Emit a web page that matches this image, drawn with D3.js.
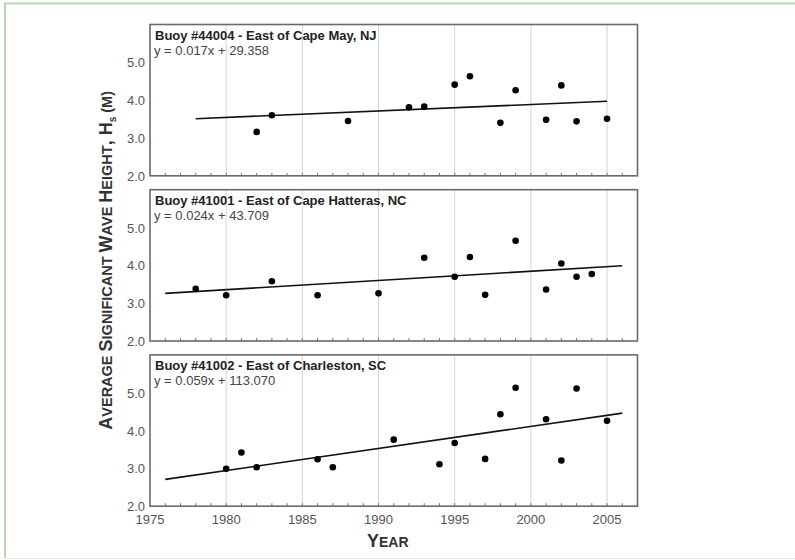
<!DOCTYPE html>
<html>
<head>
<meta charset="utf-8">
<script src="https://cdn.jsdelivr.net/npm/d3@7"></script>
<style>
  body { margin: 0; background: #fff; }
  svg text { font-family: "Liberation Sans", Arial, sans-serif; }
</style>
</head>
<body>
<div id="chart"></div>
<script>
// panel titles + regression labels
const titles = [
  "Buoy #44004 - East of Cape May, NJ",
  "Buoy #41001 - East of Cape Hatteras, NC",
  "Buoy #41002 - East of Charleston, SC"
];
const equations = [
  "y = 0.017x + 29.358",
  "y = 0.024x + 43.709",
  "y = 0.059x + 113.070"
];

// yearly averages
const years44004 = [1982, 1983, 1988, 1992, 1993, 1995, 1996, 1998, 1999, 2001, 2002, 2003, 2005];
const hs44004 = [3.16, 3.60, 3.45, 3.81, 3.83, 4.41, 4.63, 3.40, 4.26, 3.48, 4.39, 3.44, 3.51];

const years41001 = [1978, 1980, 1983, 1986, 1990, 1993, 1995, 1996, 1997, 1999, 2001, 2002, 2003, 2004];
const hs41001 = [3.38, 3.21, 3.58, 3.21, 3.26, 4.20, 3.70, 4.22, 3.22, 4.65, 3.36, 4.05, 3.70, 3.77];

const years41002 = [1980, 1981, 1982, 1986, 1987, 1991, 1994, 1995, 1997, 1998, 1999, 2001, 2002, 2003, 2005];
const hs41002 = [2.99, 3.42, 3.03, 3.24, 3.03, 3.76, 3.11, 3.67, 3.25, 4.43, 5.13, 4.30, 3.21, 5.11, 4.26];

// trend line end points [year, value]
const trend44004 = [[1978, 3.51], [2005, 3.97]];
const trend41001 = [[1976, 3.26], [2006, 3.99]];
const trend41002 = [[1976, 2.71], [2006, 4.46]];

const xTicks = [1975, 1980, 1985, 1990, 1995, 2000, 2005];
const yTicks = [2, 3, 4, 5];

const panels = [
  { years: years44004, hs: hs44004, trend: trend44004 },
  { years: years41001, hs: hs41001, trend: trend41001 },
  { years: years41002, hs: hs41002, trend: trend41002 }
];

const width = 795, height = 560;
const left = 150, right = 637.5;
const top0 = 24.5, step = 165.2, panelH = 151.3;

const svg = d3.select("#chart").append("svg")
  .attr("width", width)
  .attr("height", height);

// outer page frame
svg.append("line").attr("x1", 4).attr("x2", width).attr("y1", 3.5).attr("y2", 3.5)
  .attr("stroke", "#b5d8b0").attr("stroke-width", 2);
svg.append("line").attr("x1", 5).attr("x2", 5).attr("y1", 3).attr("y2", 558)
  .attr("stroke", "#b5d8b0").attr("stroke-width", 2);
svg.append("line").attr("x1", 5).attr("x2", width).attr("y1", 558.5).attr("y2", 558.5)
  .attr("stroke", "#e6e6e6").attr("stroke-width", 1);

const x = d3.scaleLinear().domain([1975, 2007]).range([left, right]);

panels.forEach((p, i) => {
  const top = top0 + i * step;
  const y = d3.scaleLinear().domain([2, 6]).range([top + panelH, top]);
  const g = svg.append("g");

  // vertical grid
  g.selectAll("line.grid")
    .data(xTicks.slice(1))
    .join("line")
    .attr("class", "grid")
    .attr("x1", d => x(d)).attr("x2", d => x(d))
    .attr("y1", top).attr("y2", top + panelH)
    .attr("stroke", "#d4d4d4").attr("stroke-width", 1);

  // yearly minor ticks along the bottom
  g.selectAll("line.minor")
    .data(d3.range(1976, 2007))
    .join("line")
    .attr("class", "minor")
    .attr("x1", d => x(d)).attr("x2", d => x(d))
    .attr("y1", top + panelH).attr("y2", top + panelH - 3)
    .attr("stroke", "#777").attr("stroke-width", 1);

  // frame
  g.append("rect")
    .attr("x", left).attr("y", top)
    .attr("width", right - left).attr("height", panelH)
    .attr("fill", "none").attr("stroke", "#6a6a6a").attr("stroke-width", 1.6);

  // y tick labels
  g.selectAll("text.ytick")
    .data(yTicks)
    .join("text")
    .attr("class", "ytick")
    .attr("x", left - 5)
    .attr("y", d => y(d) + 5)
    .attr("text-anchor", "end")
    .attr("font-size", 13)
    .attr("fill", "#555")
    .text(d => d3.format(".1f")(d));

  // trend line
  g.append("line")
    .attr("x1", x(p.trend[0][0])).attr("y1", y(p.trend[0][1]))
    .attr("x2", x(p.trend[1][0])).attr("y2", y(p.trend[1][1]))
    .attr("stroke", "#111").attr("stroke-width", 1.6);

  // points
  g.selectAll("circle")
    .data(p.years.map((yr, k) => [yr, p.hs[k]]))
    .join("circle")
    .attr("cx", d => x(d[0]))
    .attr("cy", d => y(d[1]))
    .attr("r", 3.3)
    .attr("fill", "#000");

  g.append("text")
    .attr("x", left + 5).attr("y", top + 15)
    .attr("font-size", 13).attr("font-weight", "bold").attr("fill", "#222")
    .text(titles[i]);
  g.append("text")
    .attr("x", left + 4).attr("y", top + 30)
    .attr("font-size", 13).attr("fill", "#444")
    .text(equations[i]);
});

// x tick labels under the last panel
const bottom = top0 + 2 * step + panelH;
svg.selectAll("text.xtick")
  .data(xTicks)
  .join("text")
  .attr("class", "xtick")
  .attr("x", d => x(d))
  .attr("y", bottom + 18)
  .attr("text-anchor", "middle")
  .attr("font-size", 13)
  .attr("fill", "#555")
  .text(d => d);

// small caps drawn by hand: [text, isCap]
function smallCaps(sel, parts, big, small) {
  parts.forEach(([t, cap]) => {
    sel.append("tspan").attr("font-size", cap ? big : small).text(t);
  });
}

const xl = svg.append("text")
  .attr("x", (left + right) / 2 - 6)
  .attr("y", 547)
  .attr("text-anchor", "middle")
  .attr("font-weight", "bold")
  .attr("fill", "#333");
smallCaps(xl, [["Y", true], ["EAR", false]], 18, 14);

const yl = svg.append("text")
  .attr("transform", `translate(112, ${top0 + (2 * step + panelH) / 2 - 5}) rotate(-90)`)
  .attr("text-anchor", "middle")
  .attr("font-weight", "bold")
  .attr("fill", "#333");
smallCaps(yl, [
  ["A", true], ["VERAGE ", false],
  ["S", true], ["IGNIFICANT ", false],
  ["W", true], ["AVE ", false],
  ["H", true], ["EIGHT", false], [", H", true]
], 18, 14.5);
yl.append("tspan").attr("font-size", 10).attr("dy", 4).text("s");
yl.append("tspan").attr("font-size", 14.5).attr("dy", -4).text(" (M)");
</script>
</body>
</html>
